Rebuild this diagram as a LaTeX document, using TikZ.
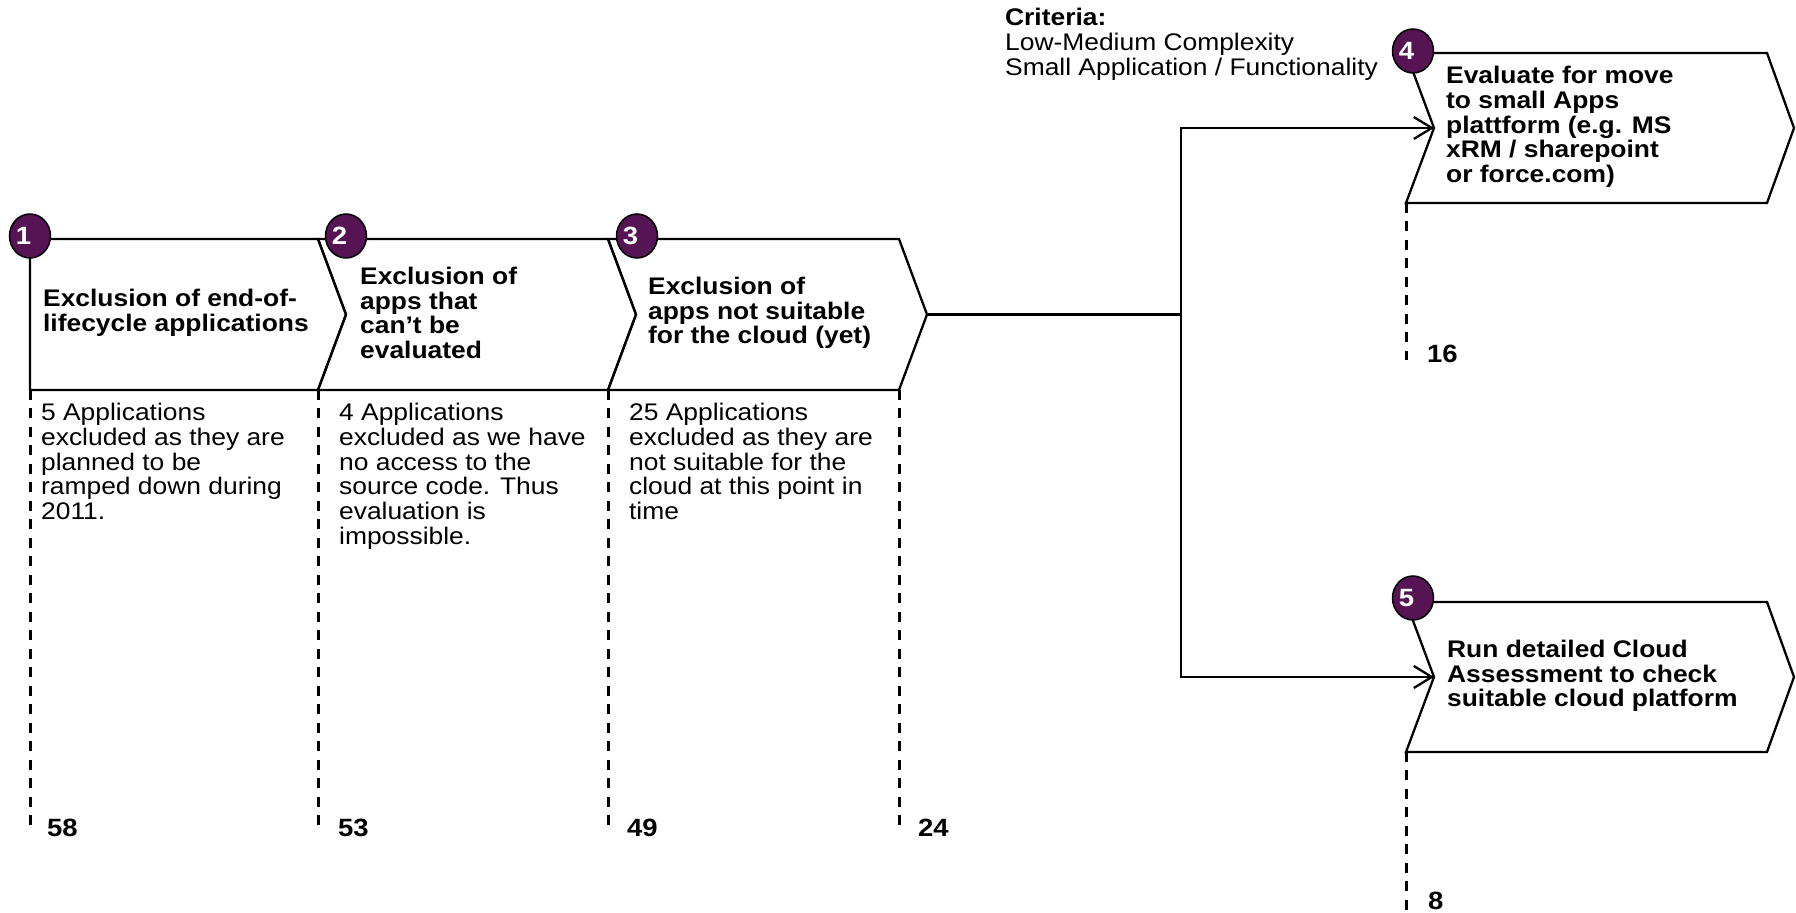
\documentclass[tikz,border=0pt]{standalone}
\usepackage{fontspec}
\setmainfont{Liberation Sans}[FakeStretch=1.1]
\usetikzlibrary{arrows.meta,shapes.geometric}
\definecolor{stepcol}{RGB}{86,20,84}

\begin{document}
\begin{tikzpicture}[x=0.5pt,y=-0.5pt,line width=1.15pt,
  stepnum/.style={ellipse, draw=black, line width=0.75pt, fill=stepcol, minimum width=20.5pt, minimum height=22pt, inner sep=0pt, text=white, font=\fontsize{12.5}{12.5}\selectfont\bfseries, execute at begin node={\kern-6.5pt}},
  title/.style={anchor=west, align=left, inner sep=0pt, font=\fontsize{12}{12.4}\selectfont\bfseries},
  body/.style={anchor=north west, align=left, inner sep=0pt, font=\fontsize{12}{12.4}\selectfont},
  count/.style={anchor=base west, inner sep=0pt, font=\fontsize{12.5}{12.5}\selectfont\bfseries},
  guide/.style={line width=1.5pt, dash pattern=on 5pt off 4.25pt},
  flow/.style={-{Straight Barb[length=9pt,width=11pt]}}]
\path[use as bounding box, fill=white] (0,0) rectangle (1796,913);

% chevrons
\draw (30,239) -- (318,239) -- (346,314.5) -- (318,390) -- (30,390) -- cycle;
\draw (318,239) -- (608,239) -- (636,314.5) -- (608,390) -- (318,390) -- (346,314.5) -- cycle;
\draw (608,239) -- (899,239) -- (927,314.5) -- (899,390) -- (608,390) -- (636,314.5) -- cycle;
\draw (1406,53) -- (1767,53) -- (1794,128) -- (1767,203) -- (1406,203) -- (1434,128) -- cycle;
\draw (1406,602) -- (1767,602) -- (1794,677) -- (1767,752) -- (1406,752) -- (1434,677) -- cycle;

% guides
\draw[guide] (30,390) -- (30,828);
\draw[guide] (318,390) -- (318,828);
\draw[guide] (608,390) -- (608,828);
\draw[guide] (899,390) -- (899,828);
\draw[guide] (1406,203) -- (1406,360);
\draw[guide] (1406,752) -- (1406,913);

% connectors
\coordinate (tip3) at (927,314.5);
\coordinate (split) at (1181,314.5);
\coordinate (in4) at (1434,128);
\coordinate (in5) at (1434,677);
\draw (tip3) -- (split);
\draw[flow] (split) |- (in4);
\draw[flow] (split) |- (in5);

% step titles
\node[title] (t1) at (42,313) {Exclusion of end-of-\\lifecycle applications};
\node[title] (t2) at (359,313) {Exclusion of\\apps that\\can’t be\\evaluated};
\node[title] (t3) at (647,313) {Exclusion of\\apps not suitable\\for the cloud (yet)};
\node[title] (t4) at (1445,127) {Evaluate for move\\to small Apps\\plattform (e.g. MS\\xRM / sharepoint\\or force.com)};
\node[title] (t5) at (1446,676) {Run detailed Cloud\\Assessment to check\\suitable cloud platform};

% details
\node[body] (d1) at (40,402) {5 Applications\\excluded as they are\\planned to be\\ramped down during\\2011.};
\node[body] (d2) at (338,402) {4 Applications\\excluded as we have\\no access to the\\source code. Thus\\evaluation is\\impossible.};
\node[body] (d3) at (628,402) {25 Applications\\excluded as they are\\not suitable for the\\cloud at this point in\\time};
\node[body] (crit) at (1004,7) {\textbf{Criteria:}\\Low-Medium Complexity\\Small Application / Functionality};

% counts
\node[count] (c1) at (46,837) {58};
\node[count] (c2) at (337,837) {53};
\node[count] (c3) at (626,837) {49};
\node[count] (c4) at (917,837) {24};
\node[count] (c5) at (1426,363) {16};
\node[count] (c6) at (1427,910) {8};

% step numbers
\node[stepnum] (s1) at (30,236) {1};
\node[stepnum] (s2) at (346,236) {2};
\node[stepnum] (s3) at (637,236) {3};
\node[stepnum] (s4) at (1413,51) {4};
\node[stepnum] (s5) at (1413,598) {5};
\end{tikzpicture}
\end{document}
